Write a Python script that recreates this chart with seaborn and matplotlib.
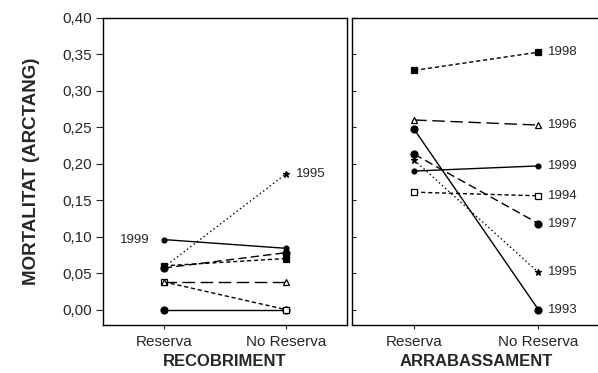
import numpy as np
import pandas as pd
import matplotlib
matplotlib.use("Agg")
import matplotlib.pyplot as plt
import seaborn as sns

# categories and series
conditions = ["Reserva", "No Reserva"]
years = ["1993", "1994", "1995", "1996", "1997", "1998", "1999"]

# RECOBRIMENT panel (Reserva, No Reserva)
recobriment = {
    "1993": [0.000, 0.000],
    "1994": [0.038, 0.000],
    "1995": [0.058, 0.186],
    "1996": [0.038, 0.038],
    "1997": [0.057, 0.078],
    "1998": [0.060, 0.070],
    "1999": [0.096, 0.084],
}
# ARRABASSAMENT panel
arrabassament = {
    "1993": [0.247, 0.000],
    "1994": [0.161, 0.156],
    "1995": [0.205, 0.051],
    "1996": [0.260, 0.253],
    "1997": [0.213, 0.118],
    "1998": [0.328, 0.353],
    "1999": [0.190, 0.197],
}
yticks = [0.0, 0.05, 0.10, 0.15, 0.20, 0.25, 0.30, 0.35, 0.40]

# line / marker style per year
styles = {
    "1993": dict(linestyle="-", marker="o", markersize=5, markerfacecolor="black"),
    "1994": dict(linestyle=(0, (3, 2)), marker="s", markersize=4.5, markerfacecolor="white"),
    "1995": dict(linestyle=(0, (1, 2)), marker="*", markersize=5, markerfacecolor="black"),
    "1996": dict(linestyle=(0, (9, 4)), marker="^", markersize=4.5, markerfacecolor="white"),
    "1997": dict(linestyle=(0, (6, 3)), marker="o", markersize=5, markerfacecolor="black"),
    "1998": dict(linestyle=(0, (3, 2)), marker="s", markersize=5, markerfacecolor="black"),
    "1999": dict(linestyle="-", marker="o", markersize=3.5, markerfacecolor="black"),
}

sns.set_style("ticks")
plt.rcParams["font.family"] = ["Liberation Sans", "DejaVu Sans"]

fig = plt.figure(figsize=(5.98, 3.73), dpi=100)
ax1 = fig.add_axes([0.172, 0.129, 0.408, 0.823])
ax2 = fig.add_axes([0.589, 0.129, 0.415, 0.823])


def draw_panel(ax, data, title, labels):
    for yr in years:
        df = pd.DataFrame({"cond": conditions, "val": data[yr]})
        sns.lineplot(data=df, x="cond", y="val", ax=ax, color="black",
                     linewidth=1.0, markeredgecolor="black",
                     markeredgewidth=0.9, **styles[yr])
    for yr, side in labels:
        if side == "left":
            ax.annotate(yr, (0, data[yr][0]), xytext=(-10, 0),
                        textcoords="offset points", ha="right", va="center",
                        fontsize=9.5)
        else:
            ax.annotate(yr, (1, data[yr][1]), xytext=(7, 0),
                        textcoords="offset points", ha="left", va="center",
                        fontsize=9.5)
    ax.set_xlim(-0.5, 1.5)
    ax.set_ylim(-0.021, 0.40)
    ax.set_yticks(yticks)
    ax.set_xlabel(title, fontsize=12, fontweight="bold", labelpad=4)
    ax.tick_params(axis="x", labelsize=11, length=3, pad=4)
    for s in ax.spines.values():
        s.set_visible(True)
        s.set_linewidth(1.0)
        s.set_color("black")


draw_panel(ax1, recobriment, "RECOBRIMENT", [("1999", "left"), ("1995", "right")])
draw_panel(ax2, arrabassament, "ARRABASSAMENT",
           [(y, "right") for y in years])

ax1.set_yticklabels([f"{t:.2f}".replace(".", ",") for t in yticks])
ax1.tick_params(axis="y", labelsize=11, length=5, pad=3)
ax1.set_ylabel("MORTALITAT (ARCTANG)", fontsize=13.5, fontweight="bold", labelpad=16)
ax2.set_ylabel("")
ax2.tick_params(axis="y", labelleft=False, direction="in", length=3)

fig.savefig("out.png", dpi=100)
